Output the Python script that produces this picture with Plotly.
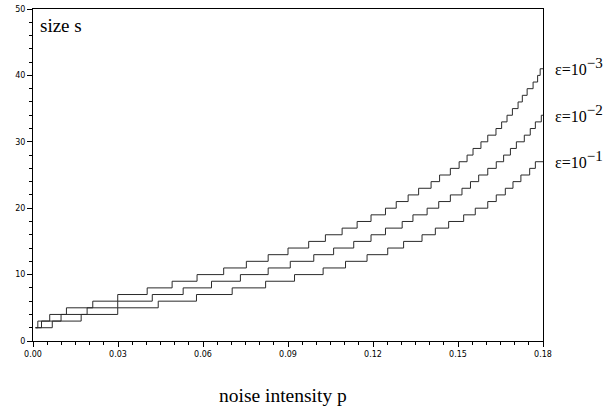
import plotly.graph_objects as go

# p values where size s increases by one; all curves start at s=2
p_start = 0.0009
p_end = 0.18
s_start = 2

steps_eps1 = [0.0068, 0.0170, 0.0299, 0.0442, 0.0577, 0.0703, 0.0821, 0.0923, 0.1024,
              0.1103, 0.1179, 0.1252, 0.1308, 0.1373, 0.1420, 0.1467, 0.1520, 0.1561,
              0.1605, 0.1635, 0.1667, 0.1694, 0.1722, 0.1753, 0.1773]
steps_eps2 = [0.0030, 0.0099, 0.0191, 0.0299, 0.0421, 0.0530, 0.0630, 0.0732, 0.0830,
              0.0908, 0.0991, 0.1061, 0.1132, 0.1193, 0.1244, 0.1303, 0.1341, 0.1391,
              0.1432, 0.1473, 0.1514, 0.1544, 0.1573, 0.1605, 0.1635, 0.1661, 0.1685,
              0.1706, 0.1734, 0.1755, 0.1773, 0.1794]
steps_eps3 = [0.0017, 0.0059, 0.0118, 0.0211, 0.0299, 0.0403, 0.0491, 0.0579, 0.0673,
              0.0753, 0.0830, 0.0900, 0.0973, 0.1032, 0.1091, 0.1144, 0.1193, 0.1244,
              0.1282, 0.1324, 0.1361, 0.1405, 0.1435, 0.1473, 0.1504, 0.1532, 0.1553,
              0.1581, 0.1605, 0.1634, 0.1654, 0.1673, 0.1692, 0.1712, 0.1727, 0.1744,
              0.1765, 0.1781, 0.1790]

series = [("1", steps_eps1), ("2", steps_eps2), ("3", steps_eps3)]

x_ticks = [0.00, 0.03, 0.06, 0.09, 0.12, 0.15, 0.18]
x_ticklabels = ["0.00", "0.03", "0.06", "0.09", "0.12", "0.15", "0.18"]
y_ticks = [0, 10, 20, 30, 40, 50]

fig = go.Figure()
for exp, steps in series:
    xs = [p_start] + steps + [p_end]
    ys = [s_start + i for i in range(len(steps) + 1)]
    ys = ys + [ys[-1]]
    fig.add_trace(go.Scatter(x=xs, y=ys, mode="lines", line_shape="hv",
                             line=dict(color="#2a2a2a", width=1), showlegend=False,
                             hoverinfo="skip"))
    fig.add_annotation(x=p_end, y=ys[-1], xref="x", yref="y",
                       text="\u03b5=10<sup><span style='font-size:15px'>\u2212" + exp
                            + "</span></sup>",
                       showarrow=False, xanchor="left", yanchor="middle", xshift=10, yshift=2,
                       font=dict(family="Liberation Serif", size=16, color="black"))

fig.add_annotation(x=0, y=1, xref="paper", yref="paper", text="size s",
                   showarrow=False, xanchor="left", yanchor="top", xshift=5, yshift=-4,
                   font=dict(family="Liberation Serif", size=19, color="black"))

fig.add_annotation(x=0.5, y=0, xref="paper", yref="paper", text="noise intensity p",
                   showarrow=False, xanchor="center", yanchor="middle", xshift=-5, yshift=-54,
                   font=dict(family="Liberation Serif", size=19.5, color="black"))

axis_common = dict(showgrid=False, zeroline=False, showline=True, linecolor="black",
                   linewidth=1, mirror=True, ticks="outside", tickcolor="black",
                   tickwidth=1, ticklen=5,
                   tickfont=dict(family="DejaVu Sans", size=8, color="black"))

fig.update_xaxes(range=[0, 0.18], tickvals=x_ticks, ticktext=x_ticklabels,
                 minor=dict(dtick=0.005, ticks="outside", ticklen=3, tickcolor="black"),
                 **axis_common)
fig.update_yaxes(range=[0, 50], tickvals=y_ticks,
                 minor=dict(dtick=2, ticks="outside", ticklen=3, tickcolor="black"),
                 **axis_common)

fig.update_layout(width=607, height=407, plot_bgcolor="white", paper_bgcolor="white",
                  margin=dict(l=33, r=64, t=5, b=66))

fig.write_html("out.html", config={"displayModeBar": False},
               post_script="document.body.style.margin='0px';document.body.style.overflow='hidden';")
